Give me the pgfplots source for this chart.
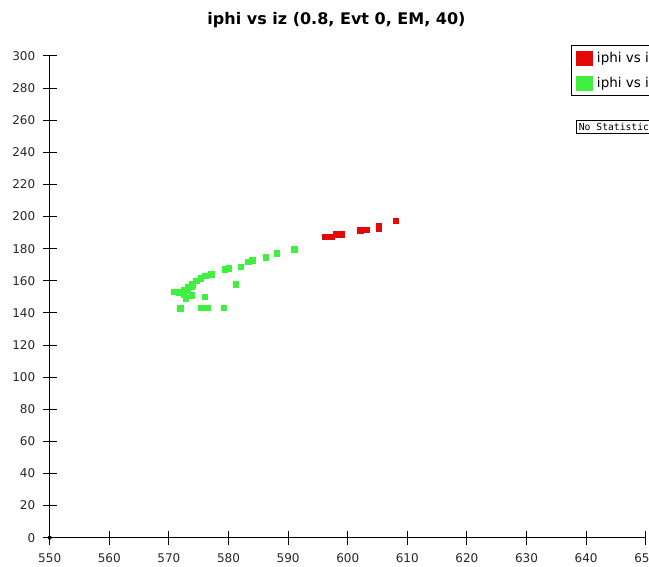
\documentclass[border=0pt]{standalone}
\usepackage{pgfplots}
\pgfplotsset{compat=1.18}
\usepackage{fontspec}
\setmainfont{DejaVu Sans}
\newfontfamily\titlefont{DejaVu Sans}
\newfontfamily\statfont{DejaVu Sans Mono}

\definecolor{hitred}{RGB}{228,8,8}
\definecolor{hitgreen}{RGB}{64,240,64}

\begin{document}
\begin{tikzpicture}
\begin{axis}[
  scale only axis,
  width=596bp, height=481.7bp,
  xmin=550, xmax=650, ymin=0, ymax=300,
  xtick={550,560,...,650}, ytick={0,20,...,300},
  axis line style={draw=none},
  xtick pos=bottom, ytick pos=left,
  tick align=center,
  major tick length=14bp,
  every tick/.style={black, line width=1bp},
  tick label style={font=\fontsize{12bp}{14bp}\selectfont, text=black!85},
  xticklabel shift=5bp, yticklabel shift=4bp,
  /pgf/number format/assume math mode=true,
  /pgf/number format/set thousands separator={},
  clip=false,
  legend cell align=left,
  legend style={at={(521.3bp,492.7bp)}, anchor=north west,
    draw=black, line width=1bp, font=\fontsize{13.5bp}{15bp}\selectfont,
    inner xsep=4bp, inner ysep=5bp, row sep=9bp},
  legend image code/.code={\fill[#1,draw=none] (0bp,-7.5bp) rectangle (17bp,7.5bp);
    \path (19bp,0bp);},
]
% hits of the first collection
\addplot[only marks, mark=square*, mark size=2.7bp, hitred, mark options={draw=none, fill=hitred}]
  coordinates {
  (596.2,187.3) (597.2,187.3) (598.0,188.9) (599.0,188.9)
  (602.1,191.4) (603.2,192.0) (605.2,194.2) (605.2,192.8)
  (608.1,197.3)
  };
\addlegendentry{iphi vs iz}
% hits of the second collection
\addplot[only marks, mark=square*, mark size=2.7bp, hitgreen, mark options={draw=none, fill=hitgreen}]
  coordinates {
  (591.0,179.8) (588.1,177.3) (586.2,174.6) (584.0,172.9) (583.3,171.9)
  (582.0,168.8) (580.0,167.8) (579.4,167.1) (577.1,164.2) (576.1,163.1)
  (575.3,161.7) (574.6,160.0) (573.9,158.0) (573.8,156.3) (573.2,156.3)
  (573.2,154.2) (572.5,154.2) (571.6,152.8) (570.9,153.2) (572.5,151.3)
  (572.8,149.2) (573.8,151.1) (576.0,150.0) (581.2,158.0) (571.9,142.9)
  (575.3,143.4) (576.4,143.4) (579.2,143.4)
  };
\addlegendentry{iphi vs iz}
% the two axis lines and the dot at the origin
\draw[black, line width=1bp] (axis cs:550,300) -- (axis cs:550,0) -- (axis cs:650,0);
\fill[black] (axis cs:550,0) circle (2bp);
\end{axis}
% title
\node[anchor=base, font=\titlefont\bfseries\fontsize{16bp}{19bp}\selectfont]
  at (286.8bp,512.7bp) {iphi vs iz (0.8, Evt 0, EM, 40)};
% statistics box
\node[anchor=west, draw=black, line width=0.8bp, inner xsep=2.5bp, inner ysep=3bp,
  font=\statfont\fontsize{9.7bp}{11bp}\selectfont] at (526.3bp,410.7bp) {No Statistics};
\pgfresetboundingbox
\path[use as bounding box] (-49.7bp,-29.3bp) rectangle (599.3bp,537.7bp);
\end{tikzpicture}
\end{document}
